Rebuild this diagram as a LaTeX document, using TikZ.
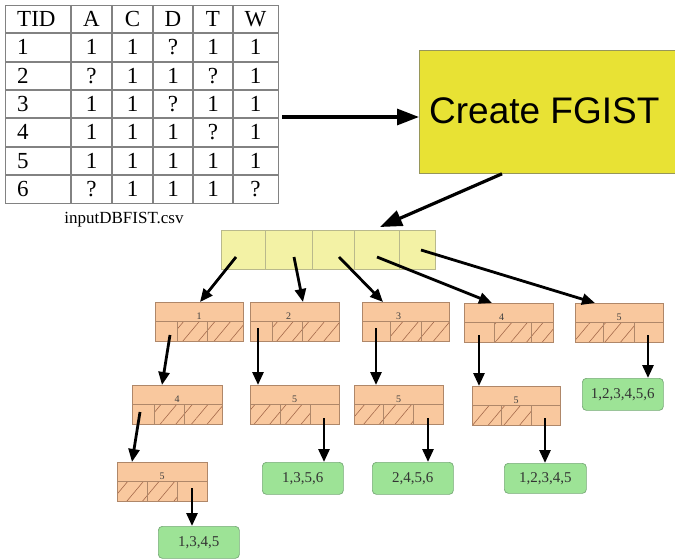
\documentclass[tikz,border=0pt]{standalone}
\usepackage{fontspec}
\setmainfont{Liberation Serif}
\newfontfamily\arialf{Liberation Sans}
\usetikzlibrary{arrows.meta,patterns.meta,calc}
\definecolor{bigy}{RGB}{232,226,52}
\definecolor{bigyb}{RGB}{150,150,90}
\definecolor{ay}{RGB}{243,242,165}
\definecolor{ayb}{RGB}{185,185,140}
\definecolor{ora}{RGB}{249,200,158}
\definecolor{orab}{RGB}{175,135,105}
\definecolor{hatch}{RGB}{165,105,75}
\definecolor{grn}{RGB}{157,227,150}
\definecolor{grnb}{RGB}{120,170,120}
\definecolor{tgray}{RGB}{130,130,130}
\tikzset{
  tcell/.style={inner sep=0pt,font=\fontsize{23}{23}\selectfont},
  tline/.style={draw=tgray,line width=1.2pt},
  obx/.style={draw=orab,fill=ora,line width=0.7pt,minimum height=39pt,inner sep=0pt},
  oline/.style={draw=orab,line width=0.7pt},
  olabel/.style={inner sep=0pt,font=\fontsize{10}{10}\selectfont,text=black!75},
  gbx/.style={draw=grnb,fill=grn,line width=0.7pt,rounded corners=4pt,inner sep=0pt,
    font=\fontsize{15}{15}\selectfont,text=black!80},
  tarr/.style={line width=2.8pt,-{Triangle[length=13pt,width=11pt]}},
  barr/.style={line width=3.2pt,-{Triangle[length=22pt,width=16pt]}},
}
% #1 name, #2 left, #3 top, #4 div1, #5 div2, #6 right, #7 label, #8 hatched cells (23 or 12), #9 label x offset
\newcommand\obox[9]{%
  \node[obx,minimum width={#6pt-#2pt},anchor=north west] (#1) at (#2,#3) {};
  \ifnum#8=23
    \fill[pattern={Lines[angle=50,distance=12pt,line width=0.6pt]},pattern color=hatch] (#4,#3+19) rectangle (#6,#3+39);
  \else
    \fill[pattern={Lines[angle=50,distance=12pt,line width=0.6pt]},pattern color=hatch] (#2,#3+19) rectangle (#5,#3+39);
  \fi
  \draw[oline] (#2,#3+19) -- (#6,#3+19);
  \draw[oline] (#4,#3+19) -- (#4,#3+39);
  \draw[oline] (#5,#3+19) -- (#5,#3+39);
  \draw[orab,line width=0.7pt] (#2,#3) rectangle (#6,#3+39);
  \node[olabel] (#1-l) at ({(#2+#6)/2+#9},#3+14) {#7};
}
\begin{document}
\begin{tikzpicture}[x=1pt,y=-1pt]
\clip (0,0) rectangle (675,559);
\fill[white] (0,0) rectangle (675,559);

% ---------- table ----------
\node[draw=tgray,line width=1.2pt,minimum width=273pt,minimum height=198pt,anchor=north west,inner sep=0pt] (tbl) at (5,5) {};
\foreach \x in {71,112,153,193,233} \draw[tline] (\x,5) -- (\x,203);
\foreach \y in {33,62,90,118,147,175} \draw[tline] (5,\y) -- (278,\y);
\foreach [count=\i from 0] \row in {{TID,A,C,D,T,W},{1,1,1,?,1,1},{2,?,1,1,?,1},{3,1,1,?,1,1},{4,1,1,1,?,1},{5,1,1,1,1,1},{6,?,1,1,1,?}} {
  \pgfmathsetmacro\yc{19+28.33*\i}
  \foreach [count=\j from 0] \v in \row {
    \ifnum\j=0
      \node[tcell,anchor=west] (t\i-\j) at (17,\yc) {\v};
    \else
      \pgfmathsetmacro\xc{{38,91.5,132.5,173,213,255.5}[\j]}
      \node[tcell] (t\i-\j) at (\xc,\yc) {\v};
    \fi
  }
}
\node[inner sep=0pt,font=\fontsize{17}{17}\selectfont] (cap) at (124,220) {inputDBFIST.csv};

% ---------- Create FGIST ----------
\node[draw=bigyb,fill=bigy,line width=0.8pt,minimum width=275pt,minimum height=123pt,anchor=north west,inner sep=0pt] (fg) at (419,50) {};
\node[inner sep=0pt,anchor=west,font=\arialf\fontsize{37}{37}\selectfont] (fgt) at (429,111) {Create FGIST};
\coordinate (ta) at (282,117);
\draw[barr] (ta) -- (ta -| fg.west);

% ---------- array ----------
\node[draw=ayb,fill=ay,line width=0.7pt,minimum width=214pt,minimum height=39pt,anchor=north west,inner sep=0pt] (ar) at (221,230) {};
\foreach \x in {265,312,354,399} \draw[ayb,line width=0.7pt] (\x,230) -- (\x,269);
\draw[barr] ([xshift=83pt]fg.south west) -- ([xshift=159pt,yshift=3pt]ar.north west);

% ---------- orange boxes ----------
\obox{n1}{155}{302}{177}{207}{243}{1}{23}{0}
\obox{n2}{250}{302}{272}{302}{339}{2}{23}{-6}
\obox{n3}{362}{302}{390}{421}{449}{3}{23}{-7}
\obox{n4}{464}{303}{494}{531}{553}{4}{23}{-7}
\obox{n5}{575}{303}{603}{634}{663}{5}{12}{0}
\obox{m4}{132}{385}{154}{184}{222}{4}{23}{0}
\obox{m2}{250}{385}{280}{310}{339}{5}{12}{0}
\obox{m3}{354}{385}{383}{413}{443}{5}{12}{0}
\obox{m5}{472}{386}{501}{531}{560}{5}{12}{0}
\obox{k4}{117}{462}{147}{177}{207}{5}{12}{0}

% ---------- green leaves ----------
\node[gbx,minimum width=81pt,minimum height=32pt,anchor=north west] (g5) at (582,378) {1,2,3,4,5,6};
\node[gbx,minimum width=82pt,minimum height=30pt,anchor=north west] (g45) at (504,463) {1,2,3,4,5};
\node[gbx,minimum width=81pt,minimum height=32pt,anchor=north west] (g2) at (262,462) {1,3,5,6};
\node[gbx,minimum width=81pt,minimum height=32pt,anchor=north west] (g3) at (372,462) {2,4,5,6};
\node[gbx,minimum width=81pt,minimum height=32pt,anchor=north west] (gk) at (158,526) {1,3,4,5};

% ---------- arrows ----------
\coordinate (a1) at (236,257);
\coordinate (a2) at (294,257);
\coordinate (a3) at (339,257);
\coordinate (a4) at (377,257);
\coordinate (a5) at (421,250);
\draw[tarr] (a1) -- ([xshift=45pt]n1.north west);
\draw[tarr] (a2) -- ([xshift=53pt]n2.north west);
\draw[tarr] (a3) -- ([xshift=21pt]n3.north west);
\draw[tarr] (a4) -- ([xshift=28pt]n4.north west);
\draw[tarr] (a5) -- ([xshift=20pt]n5.north west);

\coordinate (n1o) at (170,335);
\coordinate (m4o) at (140,412);
\coordinate (k4o) at (192,488);
\coordinate (n2o) at (258,328);
\coordinate (m2o) at (324,418);
\coordinate (n3o) at (376,328);
\coordinate (m3o) at (428,418);
\coordinate (n4o) at (479,335);
\coordinate (m5o) at (545,418);
\coordinate (n5o) at (648,335);
\draw[tarr] (n1o) -- ([xshift=30pt]m4.north west);
\draw[tarr] (m4o) -- ([xshift=15pt]k4.north west);
\draw[tarr] (k4o) -- (k4o |- gk.north);
\draw[tarr] (n2o) -- (n2o |- m2.north);
\draw[tarr] (m2o) -- (m2o |- g2.north);
\draw[tarr] (n3o) -- (n3o |- m3.north);
\draw[tarr] (m3o) -- (m3o |- g3.north);
\draw[tarr] (n4o) -- (n4o |- m5.north);
\draw[tarr] (m5o) -- (m5o |- g45.north);
\draw[tarr] (n5o) -- (n5o |- g5.north);
\end{tikzpicture}
\end{document}
